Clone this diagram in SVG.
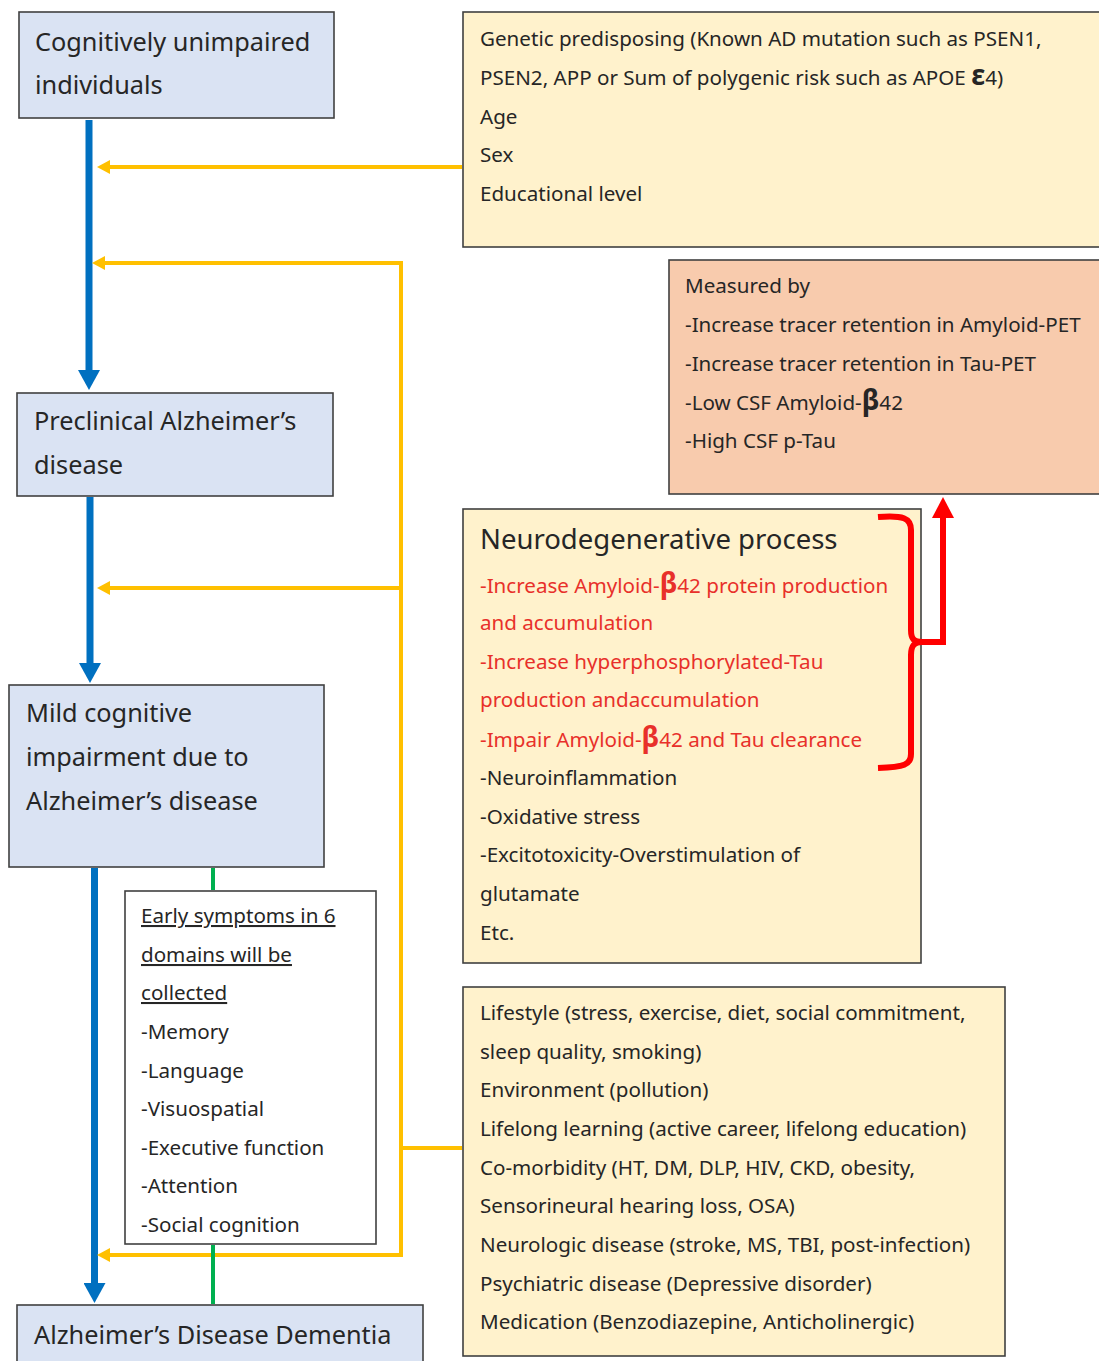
<svg xmlns="http://www.w3.org/2000/svg" width="1099" height="1361" viewBox="0 0 1099 1361">
<style>
text { font-family: "Noto Sans", "Open Sans", "DejaVu Sans", sans-serif; fill: #262626; }
.big { font-size: 25.3px; }
.body { font-size: 20.6px; }
.title { font-size: 27.5px; }
.red { fill: #e8302a; }
.beta { font-size: 28px; font-weight: bold; }
.stage { fill: #dae3f3; stroke: #404040; stroke-width: 1.6; }
.factor { fill: #fff2cc; stroke: #404040; stroke-width: 1.6; }
.measure { fill: #f8cbad; stroke: #404040; stroke-width: 1.6; }
.note { fill: #ffffff; stroke: #404040; stroke-width: 1.6; }
.blue { stroke: #0070c0; stroke-width: 7; fill: none; }
.yellow { stroke: #ffc000; stroke-width: 4; fill: none; }
.green { stroke: #00b050; stroke-width: 4; fill: none; }
.redl { stroke: #ff0000; stroke-width: 6; fill: none; }
</style>
<defs>
<marker id="ah-blue" markerUnits="userSpaceOnUse" markerWidth="20" markerHeight="22" refX="0" refY="11" orient="auto" viewBox="0 0 20 22"><path d="M0,0 L20,11 L0,22 z" fill="#0070c0"/></marker>
<marker id="ah-yellow" markerUnits="userSpaceOnUse" markerWidth="13" markerHeight="14" refX="0" refY="7" orient="auto" viewBox="0 0 13 14"><path d="M0,0 L13,7 L0,14 z" fill="#ffc000"/></marker>
<marker id="ah-red" markerUnits="userSpaceOnUse" markerWidth="21" markerHeight="22" refX="0" refY="11" orient="auto" viewBox="0 0 21 22"><path d="M0,0 L21,11 L0,22 z" fill="#ff0000"/></marker>
</defs>

<g id="node-unimpaired">
<rect class="stage" x="19" y="12" width="315" height="106"/>
<text class="big" x="35" y="51">Cognitively unimpaired</text>
<text class="big" x="35" y="94">individuals</text>
</g>

<g id="node-preclinical">
<rect class="stage" x="17" y="393" width="316" height="103"/>
<text class="big" x="34" y="430">Preclinical Alzheimer’s</text>
<text class="big" x="34" y="474">disease</text>
</g>

<g id="node-mci">
<rect class="stage" x="9" y="685" width="315" height="182"/>
<text class="big" x="26" y="722">Mild cognitive</text>
<text class="big" x="26" y="766">impairment due to</text>
<text class="big" x="26" y="810">Alzheimer’s disease</text>
</g>

<g id="node-dementia">
<rect class="stage" x="17" y="1305" width="406" height="70"/>
<text class="big" x="34" y="1344">Alzheimer’s Disease Dementia</text>
</g>

<g id="node-genetic">
<rect class="factor" x="463" y="12" width="640" height="235"/>
<text class="body" x="480" y="46">Genetic predisposing (Known AD mutation such as PSEN1,</text>
<text class="body" x="480" y="85">PSEN2, APP or Sum of polygenic risk such as APOE <tspan class="beta" font-size="24">ε</tspan>4)</text>
<text class="body" x="480" y="124">Age</text>
<text class="body" x="480" y="162">Sex</text>
<text class="body" x="480" y="201">Educational level</text>
</g>

<g id="node-measured">
<rect class="measure" x="669" y="260" width="434" height="234"/>
<text class="body" x="685" y="293">Measured by</text>
<text class="body" x="685" y="332">-Increase tracer retention in Amyloid-PET</text>
<text class="body" x="685" y="371">-Increase tracer retention in Tau-PET</text>
<text class="body" x="685" y="410">-Low CSF Amyloid-<tspan class="beta">β</tspan>42</text>
<text class="body" x="685" y="448">-High CSF p-Tau</text>
</g>

<g id="node-neuro">
<rect class="factor" x="463" y="509" width="458" height="454"/>
<text class="title" x="480" y="549">Neurodegenerative process</text>
<text class="body red" x="480" y="593">-Increase Amyloid-<tspan class="beta red">β</tspan>42 protein production</text>
<text class="body red" x="480" y="630">and accumulation</text>
<text class="body red" x="480" y="669">-Increase hyperphosphorylated-Tau</text>
<text class="body red" x="480" y="707">production andaccumulation</text>
<text class="body red" x="480" y="747">-Impair Amyloid-<tspan class="beta red">β</tspan>42 and Tau clearance</text>
<text class="body" x="480" y="785">-Neuroinflammation</text>
<text class="body" x="480" y="824">-Oxidative stress</text>
<text class="body" x="480" y="862">-Excitotoxicity-Overstimulation of</text>
<text class="body" x="480" y="901">glutamate</text>
<text class="body" x="480" y="940">Etc.</text>
</g>

<g id="node-lifestyle">
<rect class="factor" x="463" y="987" width="542" height="369"/>
<text class="body" x="480" y="1020">Lifestyle (stress, exercise, diet, social commitment,</text>
<text class="body" x="480" y="1059">sleep quality, smoking)</text>
<text class="body" x="480" y="1097">Environment (pollution)</text>
<text class="body" x="480" y="1136">Lifelong learning (active career, lifelong education)</text>
<text class="body" x="480" y="1175">Co-morbidity (HT, DM, DLP, HIV, CKD, obesity,</text>
<text class="body" x="480" y="1213">Sensorineural hearing loss, OSA)</text>
<text class="body" x="480" y="1252">Neurologic disease (stroke, MS, TBI, post-infection)</text>
<text class="body" x="480" y="1291">Psychiatric disease (Depressive disorder)</text>
<text class="body" x="480" y="1329">Medication (Benzodiazepine, Anticholinergic)</text>
</g>

<g id="node-symptoms">
<rect class="note" x="125" y="891" width="251" height="353"/>
<text class="body" x="141" y="923" text-decoration="underline">Early symptoms in 6</text>
<text class="body" x="141" y="962" text-decoration="underline">domains will be</text>
<text class="body" x="141" y="1000" text-decoration="underline">collected</text>
<text class="body" x="141" y="1039">-Memory</text>
<text class="body" x="141" y="1078">-Language</text>
<text class="body" x="141" y="1116">-Visuospatial</text>
<text class="body" x="141" y="1155">-Executive function</text>
<text class="body" x="141" y="1193">-Attention</text>
<text class="body" x="141" y="1232">-Social cognition</text>
</g>

<g id="connectors">
<path class="blue" d="M89,120 V370" marker-end="url(#ah-blue)"/>
<path class="blue" d="M90,497 V663" marker-end="url(#ah-blue)"/>
<path class="blue" d="M94.5,868 V1283" marker-end="url(#ah-blue)"/>
<path class="yellow" d="M462,167 H110" marker-end="url(#ah-yellow)"/>
<path class="yellow" d="M401,261 V1257"/>
<path class="yellow" d="M403,263 H105" marker-end="url(#ah-yellow)"/>
<path class="yellow" d="M401,588 H110" marker-end="url(#ah-yellow)"/>
<path class="yellow" d="M403,1255 H110" marker-end="url(#ah-yellow)"/>
<path class="yellow" d="M462,1148 H401"/>
<path class="green" d="M213,868 V890"/>
<path class="green" d="M213,1245 V1304"/>
<path class="redl" d="M878,517 C903,515 911,518 911,530 L911,630 C911,639 914,642 922,642"/>
<path class="redl" d="M922,642 C914,642 911,646 911,655 L911,754 C911,765 904,767 878,768"/>
<path class="redl" d="M914,642 H943 V518" marker-end="url(#ah-red)"/>
</g>
</svg>
